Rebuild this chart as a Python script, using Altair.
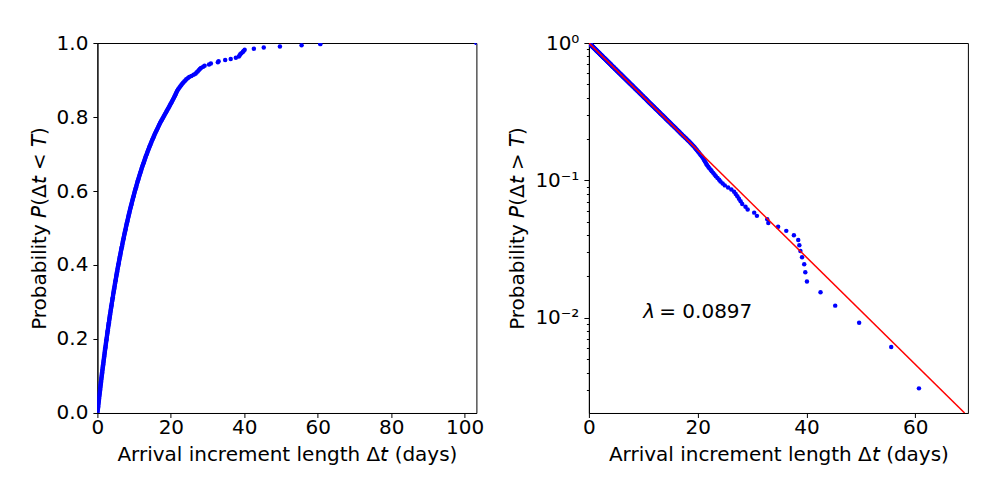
import altair as alt
import pandas as pd

# ---------------- data ----------------
# arrival increments (days), sorted, n = 326
delta_t = [
    0.03, 0.07, 0.10, 0.14, 0.17, 0.21, 0.24, 0.28, 0.31, 0.35, 0.38, 0.42, 0.45,
    0.49, 0.53, 0.56, 0.60, 0.63, 0.67, 0.71, 0.74, 0.78, 0.82, 0.85, 0.89, 0.93,
    0.96, 1.00, 1.04, 1.08, 1.11, 1.15, 1.19, 1.23, 1.27, 1.30,
    1.34, 1.38, 1.42, 1.46, 1.50, 1.54, 1.58, 1.62, 1.66, 1.70,
    1.74, 1.78, 1.82, 1.86, 1.90, 1.94, 1.98, 2.02, 2.06, 2.10,
    2.14, 2.19, 2.23, 2.27, 2.31, 2.35, 2.40, 2.44, 2.48, 2.52,
    2.57, 2.61, 2.65, 2.70, 2.74, 2.78, 2.83, 2.87, 2.92, 2.96,
    3.00, 3.05, 3.10, 3.14, 3.19, 3.23, 3.28, 3.32, 3.37, 3.41,
    3.46, 3.51, 3.56, 3.60, 3.65, 3.70, 3.75, 3.79, 3.84, 3.89,
    3.94, 3.99, 4.04, 4.09, 4.14, 4.19, 4.24, 4.28, 4.33, 4.38,
    4.44, 4.49, 4.54, 4.59, 4.64, 4.70, 4.75, 4.80, 4.85, 4.90,
    4.96, 5.01, 5.07, 5.12, 5.17, 5.23, 5.28, 5.34, 5.39, 5.45,
    5.50, 5.56, 5.62, 5.68, 5.73, 5.79, 5.85, 5.90, 5.96, 6.02,
    6.08, 6.14, 6.20, 6.26, 6.32, 6.38, 6.44, 6.50, 6.56, 6.62,
    6.69, 6.75, 6.81, 6.88, 6.94, 7.00, 7.07, 7.13, 7.19, 7.26,
    7.33, 7.39, 7.46, 7.53, 7.60, 7.66, 7.73, 7.80, 7.87, 7.93,
    8.01, 8.08, 8.15, 8.22, 8.29, 8.37, 8.44, 8.51, 8.58, 8.65,
    8.73, 8.81, 8.88, 8.96, 9.04, 9.12, 9.19, 9.27, 9.35, 9.42,
    9.51, 9.59, 9.67, 9.75, 9.84, 9.92, 10.00, 10.08, 10.17, 10.25,
    10.34, 10.43, 10.52, 10.61, 10.70, 10.78, 10.87, 10.96, 11.05, 11.14,
    11.24, 11.34, 11.43, 11.53, 11.63, 11.72, 11.82, 11.92, 12.01, 12.11,
    12.22, 12.32, 12.43, 12.54, 12.64, 12.75, 12.86, 12.96, 13.07, 13.17,
    13.29, 13.41, 13.53, 13.64, 13.76, 13.88, 14.00, 14.11, 14.23, 14.35,
    14.48, 14.61, 14.74, 14.87, 15.01, 15.14, 15.27, 15.40, 15.53, 15.66,
    15.81, 15.96, 16.11, 16.26, 16.41, 16.56, 16.70, 16.85, 17.00, 17.15,
    17.32, 17.49, 17.67, 17.84, 18.01, 18.18, 18.35, 18.53, 18.70, 18.87,
    19.04, 19.22, 19.40, 19.57, 19.72, 19.88, 20.05, 20.22, 20.38, 20.55,
    20.72, 20.88, 21.03, 21.18, 21.32, 21.46, 21.60, 21.75, 21.95, 22.15,
    22.40, 22.60, 22.85, 23.10, 23.35, 23.65, 23.95,
    24.2, 24.6, 25.0, 25.6, 26.2, 26.7, 27.0, 27.3, 27.6, 27.9, 28.2, 28.8,
    29.2, 30.4, 30.9, 32.8, 33.0, 34.8, 36.3, 37.7, 38.5, 38.7, 38.9, 39.2,
    39.6, 39.8, 40.1, 42.6, 45.3, 49.7, 55.6, 60.7, 103.2,
]

# exponential fit drawn as a straight line on the log axis
fit_t = [0.0, 69.1]
fit_p = [1.0, 0.00203]
lambda_symbol = "λ"
lambda_value = "= 0.0897"

left_xticks = [0, 20, 40, 60, 80, 100]
left_yticks = [0.0, 0.2, 0.4, 0.6, 0.8, 1.0]
right_xticks = [0, 20, 40, 60]
major_y = [1, 0.1, 0.01]
major_labels = ["10⁰", "10⁻¹", "10⁻²"]
minor_y = [0.9, 0.8, 0.7, 0.6, 0.5, 0.4, 0.3, 0.2,
           0.09, 0.08, 0.07, 0.06, 0.05, 0.04, 0.03, 0.02,
           0.009, 0.008, 0.007, 0.006, 0.005, 0.004, 0.003]

# ---------------- tables ----------------
n = len(delta_t)
srt = sorted(delta_t)
df = pd.DataFrame({
    "t": srt,
    "cdf": [(i + 1) / n for i in range(n)],
    "sf": [(n - 1 - i) / n for i in range(n)],
})
df_sf = df[df["sf"] > 0]
fit_df = pd.DataFrame({"t": fit_t, "p": fit_p})
anno_df = pd.DataFrame({"dummy": [0]})

FONT = "DejaVu Sans"
FS = 20
W, H = 379, 370
BLUE = "#0000ff"
RED = "#ff0000"
DOT = 20
XTITLE = "Arrival increment length Δ𝘵 (days)"

# ---------------- left panel: CDF ----------------
left = alt.Chart(df).mark_circle(color=BLUE, size=DOT, opacity=1, clip=True).encode(
    x=alt.X("t:Q",
            scale=alt.Scale(domain=[0, 103.2], nice=False, zero=False),
            axis=alt.Axis(values=left_xticks, format="d", title=XTITLE)),
    y=alt.Y("cdf:Q",
            scale=alt.Scale(domain=[0, 1], nice=False),
            axis=alt.Axis(values=left_yticks, format=".1f", titlePadding=7,
                          title="Probability 𝘗(Δ𝘵 < 𝘛)")),
).properties(width=W, height=H)

# ---------------- right panel: survival on log axis ----------------
xs_r = alt.Scale(domain=[0, 69.7], nice=False, zero=False)
ys_r = alt.Scale(type="log", domain=[0.00203, 1], nice=False)

label_expr = " : ".join(
    f"datum.value == {v} ? '{l}'" for v, l in zip(major_y, major_labels)
) + " : ''"
major_test = " || ".join(f"datum.value == {v}" for v in major_y)

y_axis_r = alt.Axis(
    values=major_y + minor_y,
    labelExpr=label_expr,
    labelOverlap=False,
    tickSize={"condition": {"test": major_test, "value": 5}, "value": 2.5},
    titlePadding=7,
    title="Probability 𝘗(Δ𝘵 > 𝘛)",
)

pts = alt.Chart(df_sf).mark_circle(color=BLUE, size=DOT, opacity=1, clip=True).encode(
    x=alt.X("t:Q", scale=xs_r, axis=alt.Axis(values=right_xticks, format="d", title=XTITLE)),
    y=alt.Y("sf:Q", scale=ys_r, axis=y_axis_r),
)
fit = alt.Chart(fit_df).mark_line(color=RED, strokeWidth=1.5, clip=True).encode(
    x="t:Q", y="p:Q",
)
lam1 = alt.Chart(anno_df).mark_text(
    text=lambda_symbol, font=FONT, fontSize=FS, fontStyle="italic",
    align="left", baseline="alphabetic", color="black",
).encode(x=alt.datum(10), y=alt.datum(0.01))
lam2 = alt.Chart(anno_df).mark_text(
    text=lambda_value, font=FONT, fontSize=FS, dx=16,
    align="left", baseline="alphabetic", color="black",
).encode(x=alt.datum(10), y=alt.datum(0.01))

right = alt.layer(pts, fit, lam1, lam2).properties(width=W, height=H)

chart = alt.hconcat(left, right, spacing=22.5).properties(
    padding={"left": 28.4, "top": 32, "right": 5, "bottom": 5},
    background="white",
).configure_axis(
    labelFont=FONT, labelFontSize=FS, labelColor="black",
    titleFont=FONT, titleFontSize=FS, titleFontWeight="normal", titleColor="black",
    domainColor="black", domainWidth=1, tickColor="black", tickWidth=1,
    tickSize=4.5, grid=False, labelFlush=False,
).configure_axisY(
    labelPadding=5,
).configure_axisX(
    labelPadding=0, titlePadding=7,
).configure_view(
    stroke="black", strokeWidth=1,
)

chart.save("out.html", embed_options={"renderer": "svg", "actions": False})
